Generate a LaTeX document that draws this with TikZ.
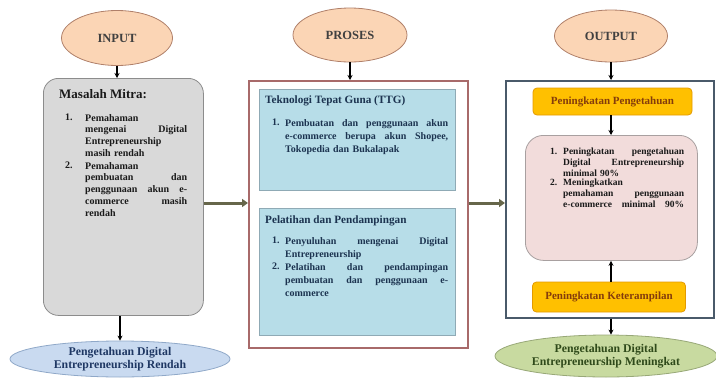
\documentclass[tikz,border=0pt]{standalone}
\usepackage{fontspec}
\setmainfont{Liberation Serif}
\usetikzlibrary{shapes.geometric,arrows.meta}

\definecolor{peachfill}{HTML}{FBD5B5}
\definecolor{peachdraw}{HTML}{B0806A}
\definecolor{grayfill}{HTML}{D9D9D9}
\definecolor{graydraw}{HTML}{8C8C8C}
\definecolor{bluefill}{HTML}{B7DDE8}
\definecolor{bluedraw}{HTML}{8FAAB5}
\definecolor{midframe}{HTML}{A86A6A}
\definecolor{outframe}{HTML}{4A5A6A}
\definecolor{orangefill}{HTML}{FFC000}
\definecolor{orangedraw}{HTML}{E39A00}
\definecolor{orangetext}{HTML}{843C0C}
\definecolor{pinkfill}{HTML}{F2DCDB}
\definecolor{pinkdraw}{HTML}{A8A0A0}
\definecolor{lowbluefill}{HTML}{C9DAF0}
\definecolor{lowbluedraw}{HTML}{8FA8C8}
\definecolor{lowbluetext}{HTML}{1F3864}
\definecolor{greenfill}{HTML}{C8DAA0}
\definecolor{greendraw}{HTML}{98A878}
\definecolor{greentext}{HTML}{2F4A1A}
\definecolor{olivearrow}{HTML}{66664A}
\definecolor{bodytext}{HTML}{1A1A1A}
\definecolor{midtext}{HTML}{1C3350}

% a line whose word gaps stretch across the column width \colw
\newcommand{\colw}{100pt}
\newcommand{\jl}[1]{\leavevmode\hbox to\colw{\spaceskip=0.25em plus 1fil\relax#1}}

\tikzset{
  peach/.style={ellipse, draw=peachdraw, line width=0.8pt, fill=peachfill,
    inner sep=0pt, font=\fontsize{12.5}{14}\selectfont\bfseries, text=black!75},
  lowell/.style={ellipse, line width=0.8pt, inner sep=0pt, align=center,
    font=\fontsize{11.8}{12.8}\selectfont\bfseries},
  graybox/.style={draw=graydraw, fill=grayfill, line width=0.8pt,
    rounded corners=15pt, anchor=north west, inner sep=0pt},
  bluebox/.style={draw=bluedraw, fill=bluefill, line width=0.8pt,
    anchor=north west, inner sep=0pt},
  frame/.style={line width=1.5pt, fill=white, anchor=north west, inner sep=0pt},
  orangebox/.style={draw=orangedraw, fill=orangefill, line width=0.8pt,
    rounded corners=4pt, inner sep=0pt, text=orangetext,
    font=\fontsize{11}{12}\selectfont\bfseries},
  pinkbox/.style={draw=pinkdraw, fill=pinkfill, line width=0.8pt,
    rounded corners=18pt, anchor=north west, inner sep=0pt},
  txt/.style={anchor=north west, inner sep=0pt, align=left},
  sarrow/.style={line width=1.3pt, -{Stealth[length=5pt,width=5pt]}},
  bigarrow/.style={line width=3pt, color=olivearrow,
    -{Triangle[length=6pt,width=8pt]}},
}

\begin{document}
\begin{tikzpicture}[x=1pt,y=-1pt]
\useasboundingbox (0,0) rectangle (716,378);

% ---------- column 1: input ----------
\node[peach, minimum width=111pt, minimum height=55pt] (inp) at (117,38) {INPUT};
\node[graybox, minimum width=160pt, minimum height=237pt] (mas) at (43,78) {};
\node[txt, font=\fontsize{13}{15}\selectfont\bfseries, text=bodytext] (masH) at (59,89) {Masalah Mitra:};
\renewcommand{\colw}{102pt}
\begin{scope}[font=\fontsize{10}{11.8}\selectfont\bfseries, text=bodytext]
  \node[txt] (masN1) at (65,114) {1.};
  \node[txt, text width=102pt] (masT1) at (85,114)
    {Pemahaman\\ \jl{mengenai Digital}\\ Entrepreneurship\\ masih rendah};
  \node[txt] (masN2) at (65,162) {2.};
  \node[txt, text width=102pt] (masT2) at (85,162)
    {Pemahaman\\ \jl{pembuatan dan}\\ \jl{penggunaan akun e-}\\ \jl{commerce masih}\\ rendah};
\end{scope}
\node[lowell, draw=lowbluedraw, fill=lowbluefill, text=lowbluetext,
  minimum width=220pt, minimum height=36pt] (lowL) at (120,359)
  {Pengetahuan Digital\\Entrepreneurship Rendah};

% ---------- column 2: process ----------
\node[peach, minimum width=114pt, minimum height=54pt] (pro) at (350,35) {PROSES};
\node[frame, draw=midframe, minimum width=219pt, minimum height=267pt] (mid) at (248,80) {};
\node[bluebox, minimum width=196pt, minimum height=101pt] (ttg) at (259,89) {};
\node[bluebox, minimum width=196pt, minimum height=127pt] (pel) at (259,208) {};
\begin{scope}[text=midtext]
  \node[txt, font=\fontsize{11.2}{13}\selectfont\bfseries] (ttgH) at (265,95.5) {Teknologi Tepat Guna (TTG)};
  \node[txt, font=\fontsize{11.2}{13}\selectfont\bfseries] (pelH) at (265,216) {Pelatihan dan Pendampingan};
\end{scope}
\renewcommand{\colw}{163pt}
\begin{scope}[font=\fontsize{10}{13.4}\selectfont\bfseries, text=midtext]
  \node[txt] (ttgN1) at (272,119) {1.};
  \node[txt, text width=163pt] (ttgT1) at (285,119)
    {\jl{Pembuatan dan penggunaan akun}\\ \jl{e-commerce berupa akun Shopee,}\\ Tokopedia dan Bukalapak};
  \node[txt] (pelN1) at (272,237) {1.};
  \node[txt, text width=163pt] (pelT1) at (285,237)
    {\jl{Penyuluhan mengenai Digital}\\ Entrepreneurship};
  \node[txt] (pelN2) at (272,263) {2.};
  \node[txt, text width=163pt] (pelT2) at (285,263)
    {\jl{Pelatihan dan pendampingan}\\ \jl{pembuatan dan penggunaan e-}\\ commerce};
\end{scope}

% ---------- column 3: output ----------
\node[peach, minimum width=113pt, minimum height=52pt] (outp) at (611,36) {OUTPUT};
\node[frame, draw=outframe, minimum width=208pt, minimum height=237pt] (outb) at (505,80) {};
\node[orangebox, minimum width=159pt, minimum height=27pt] (ora1) at (612.5,101.5) {Peningkatan Pengetahuan};
\node[pinkbox, minimum width=172pt, minimum height=125pt] (pink) at (525,135) {};
\renewcommand{\colw}{121pt}
\begin{scope}[font=\fontsize{9.5}{11}\selectfont\bfseries, text=bodytext]
  \node[txt] (pinkN1) at (550,148) {1.};
  \node[txt, text width=121pt] (pinkT1) at (563,148)
    {\jl{Peningkatan pengetahuan}\\ \jl{Digital Entrepreneurship}\\ minimal 90\%};
  \node[txt] (pinkN2) at (550,179) {2.};
  \node[txt, text width=121pt] (pinkT2) at (563,179)
    {Meningkatkan\\ \jl{pemahaman penggunaan}\\ \jl{e-commerce minimal 90\%}};
\end{scope}
\node[orangebox, minimum width=153pt, minimum height=30pt] (ora2) at (609,297) {Peningkatan Keterampilan};
\node[lowell, draw=greendraw, fill=greenfill, text=greentext,
  minimum width=222pt, minimum height=42pt] (green) at (606,356)
  {Pengetahuan Digital\\Entrepreneurship Meningkat};

% ---------- connectors ----------
\coordinate (flowY) at (0,203);
\draw[sarrow] (inp.south) -- (inp.south |- mas.north);
\draw[sarrow] (mas.south -| lowL) -- (lowL.north);
\draw[sarrow] (pro.south) -- (pro.south |- mid.north);
\draw[sarrow] (outp.south) -- (outp.south |- outb.north);
\draw[sarrow] (ora1.south -| outp) -- (pink.north -| outp);
\draw[sarrow] (ora2.north -| outp) -- (pink.south -| outp);
\draw[sarrow] (outb.south -| outp) -- (green.north -| outp);
\draw[bigarrow] (mas.east |- flowY) -- (mid.west |- flowY);
\draw[bigarrow] (mid.east |- flowY) -- (outb.west |- flowY);
\end{tikzpicture}
\end{document}
